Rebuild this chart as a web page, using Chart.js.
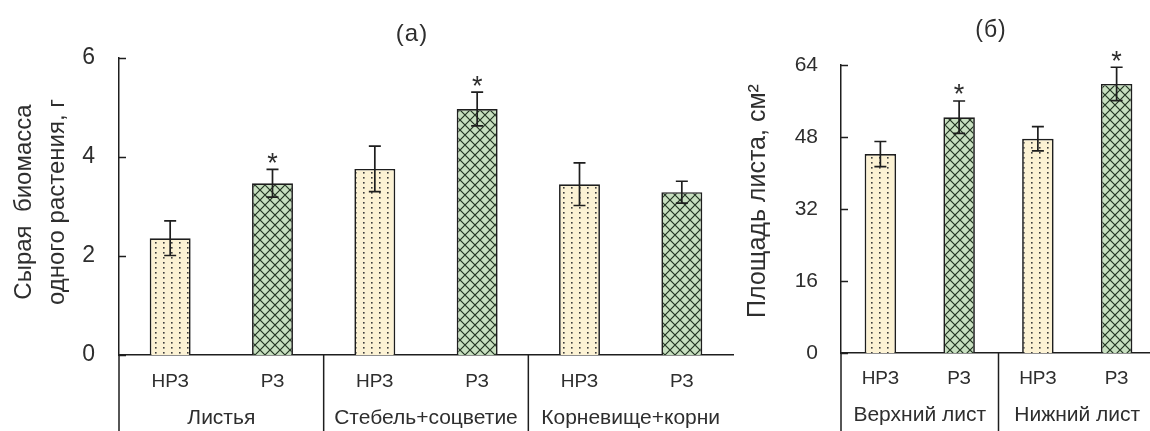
<!DOCTYPE html>
<html>
<head>
<meta charset="utf-8">
<script src="https://cdn.jsdelivr.net/npm/chart.js@4/dist/chart.umd.min.js"></script>
<style>
  html, body { margin:0; padding:0; background:#fff; width:1150px; height:431px; overflow:hidden; }
  canvas { position:absolute; top:0; }
  #ca { left:0; }
  #cb { left:740px; }
</style>
</head>
<body>
<canvas id="ca" width="740" height="431"></canvas>
<canvas id="cb" width="420" height="431"></canvas>
<script>
// ---- Data: panel (a) ----
const categoriesA = ['НРЗ', 'РЗ', 'НРЗ', 'РЗ', 'НРЗ', 'РЗ'];
const groupsA = ['Листья', 'Стебель+соцветие', 'Корневище+корни'];
const valuesA = [2.36, 3.47, 3.76, 4.97, 3.45, 3.29];
const errorsA = [0.35, 0.28, 0.46, 0.34, 0.43, 0.22];
const starsA = [false, true, false, true, false, false];
const ticksA = [0, 2, 4, 6];
const titleA = '(a)';
const yTitleA = ['Сырая  биомасса', 'одного растения, г'];

// ---- Data: panel (б) ----
const categoriesB = ['НРЗ', 'РЗ', 'НРЗ', 'РЗ'];
const groupsB = ['Верхний лист', 'Нижний лист'];
const valuesB = [44.2, 52.4, 47.6, 59.8];
const errorsB = [2.8, 3.6, 2.7, 3.7];
const starsB = [false, true, false, true];
const ticksB = [0, 16, 32, 48, 64];
const titleB = '(б)';
const yTitleB = ['Площадь листа, см²'];

const FONT = '"Liberation Sans", Arial, sans-serif';
const INK = '#1e1e1e';
const TXT = '#2e2e2e';

function dotPattern() {
  const c = document.createElement('canvas'); c.width = 8; c.height = 10;
  const g = c.getContext('2d');
  g.fillStyle = '#fcf2d4'; g.fillRect(0, 0, 8, 10);
  g.fillStyle = '#3c3c3c';
  g.fillRect(3, 2, 1.6, 1.6); g.fillRect(3, 7, 1.6, 1.6);
  return g.createPattern(c, 'repeat');
}
function hatchPattern() {
  const s = 10;
  const c = document.createElement('canvas'); c.width = s; c.height = s;
  const g = c.getContext('2d');
  g.fillStyle = '#c7dfbf'; g.fillRect(0, 0, s, s);
  g.strokeStyle = '#223422'; g.lineWidth = 1.2;
  g.beginPath();
  g.moveTo(-1, -1); g.lineTo(s + 1, s + 1);
  g.moveTo(s + 1, -1); g.lineTo(-1, s + 1);
  g.stroke();
  return g.createPattern(c, 'repeat');
}

function makeChart(id, cfg) {
  const ctx = document.getElementById(id).getContext('2d');
  const dots = dotPattern(), hatch = hatchPattern();
  const colors = cfg.categories.map(c => c === 'НРЗ' ? dots : hatch);

  const extras = {
    id: 'extras',
    afterDraw(chart) {
      const g = chart.ctx;
      const xs = chart.scales.x, ys = chart.scales.y;
      const area = chart.chartArea;
      const meta = chart.getDatasetMeta(0);
      g.save();
      // inward y ticks
      g.strokeStyle = INK; g.lineWidth = 1.5;
      cfg.ticks.forEach(t => {
        const y = Math.round(ys.getPixelForValue(t)) + 0.5;
        g.beginPath(); g.moveTo(area.left, y); g.lineTo(area.left + 7, y); g.stroke();
      });
      // error bars + stars
      meta.data.forEach((bar, i) => {
        const x = bar.x;
        const yt = ys.getPixelForValue(cfg.values[i] + cfg.errors[i]);
        const yb = ys.getPixelForValue(cfg.values[i] - cfg.errors[i]);
        g.strokeStyle = INK; g.lineWidth = 1.7;
        g.beginPath();
        g.moveTo(x, yt); g.lineTo(x, yb);
        g.moveTo(x - 6, yt); g.lineTo(x + 6, yt);
        g.moveTo(x - 6, yb); g.lineTo(x + 6, yb);
        g.stroke();
        if (cfg.stars[i]) {
          g.fillStyle = TXT; g.font = '27px ' + FONT;
          g.textAlign = 'center'; g.textBaseline = 'middle';
          g.fillText('*', x, yt - 5);
        }
      });
      // group separators
      g.strokeStyle = INK; g.lineWidth = 1.5;
      const nG = cfg.groups.length, per = cfg.categories.length / nG;
      const bounds = [area.left];
      for (let k = 1; k < nG; k++) {
        bounds.push((xs.getPixelForValue(k * per - 1) + xs.getPixelForValue(k * per)) / 2);
      }
      bounds.forEach(bx => {
        g.beginPath(); g.moveTo(bx, area.bottom); g.lineTo(bx, chart.height); g.stroke();
      });
      // group labels
      g.fillStyle = TXT; g.font = cfg.groupFont + 'px ' + FONT;
      g.textAlign = 'center'; g.textBaseline = 'middle';
      for (let k = 0; k < nG; k++) {
        const cx = (xs.getPixelForValue(k * per) + xs.getPixelForValue(k * per + per - 1)) / 2;
        g.fillText(cfg.groups[k], cx, cfg.groupY);
      }
      // panel title
      g.font = cfg.titleFont + 'px ' + FONT;
      g.letterSpacing = cfg.titleSpacing + 'px';
      g.fillText(cfg.title, cfg.titleX, cfg.titleY);
      g.letterSpacing = '0px';
      // y-axis title
      g.translate(cfg.yTitleX, cfg.yTitleY);
      g.rotate(-Math.PI / 2);
      g.font = cfg.yTitleFont + 'px ' + FONT;
      cfg.yTitle.forEach((line, j) => g.fillText(line, 0, j * cfg.yTitleGap));
      g.restore();
    }
  };

  return new Chart(ctx, {
    type: 'bar',
    data: {
      labels: cfg.categories,
      datasets: [{
        data: cfg.values,
        backgroundColor: colors,
        borderColor: INK,
        borderWidth: 1.7,
        borderSkipped: 'bottom',
        categoryPercentage: 1,
        barPercentage: 0.4
      }]
    },
    options: {
      responsive: false,
      animation: false,
      devicePixelRatio: 1,
      layout: { padding: { top: cfg.padTop, right: cfg.padRight, left: 0, bottom: 0 } },
      plugins: { legend: { display: false }, tooltip: { enabled: false }, title: { display: false } },
      scales: {
        x: {
          type: 'category',
          offset: true,
          grid: { display: false, drawTicks: false },
          border: { display: true, color: INK, width: 1.5 },
          ticks: { color: TXT, font: { family: FONT, size: 19 }, padding: cfg.xPad, maxRotation: 0, autoSkip: false },
          afterFit: s => { s.height = cfg.xHeight; }
        },
        y: {
          min: 0, max: cfg.ticks[cfg.ticks.length - 1],
          afterBuildTicks: s => { s.ticks = cfg.ticks.map(v => ({ value: v })); },
          grid: { display: false, drawTicks: false },
          border: { display: true, color: INK, width: 1.5 },
          ticks: { color: TXT, font: { family: FONT, size: cfg.yTickFont }, padding: cfg.yPad },
          afterFit: s => { s.width = cfg.yWidth; }
        }
      }
    },
    plugins: [extras]
  });
}

makeChart('ca', {
  categories: categoriesA, groups: groupsA, values: valuesA, errors: errorsA, stars: starsA,
  ticks: ticksA, title: titleA, yTitle: yTitleA,
  padTop: 58, padRight: 7, xHeight: 76, yWidth: 119, yPad: 24, xPad: 15, yTickFont: 23,
  groupFont: 21, groupY: 418, titleFont: 24, titleSpacing: 1, titleX: 412, titleY: 34,
  yTitleX: 24, yTitleY: 202, yTitleFont: 24, yTitleGap: 33
});

makeChart('cb', {
  categories: categoriesB, groups: groupsB, values: valuesB, errors: errorsB, stars: starsB,
  ticks: ticksB, title: titleB, yTitle: yTitleB,
  padTop: 65, padRight: 4, xHeight: 78, yWidth: 101, yPad: 23, xPad: 14, yTickFont: 21,
  groupFont: 21, groupY: 415, titleFont: 23, titleSpacing: 1, titleX: 251, titleY: 31,
  yTitleX: 18, yTitleY: 201, yTitleFont: 25, yTitleGap: 0
});
</script>
</body>
</html>
